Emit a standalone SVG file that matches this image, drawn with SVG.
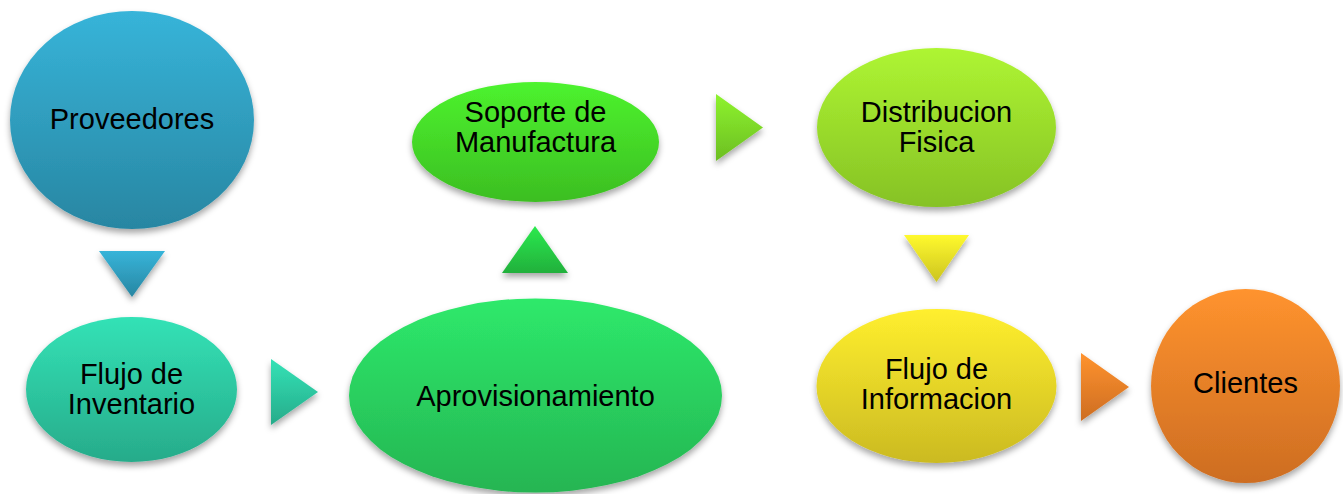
<svg xmlns="http://www.w3.org/2000/svg" width="1343" height="494" viewBox="0 0 1343 494">
<style>
text{font-family:"Liberation Sans",Arial,sans-serif;font-size:29px;fill:#000;text-anchor:middle}
.sh{filter:url(#shadow)}
</style>
<defs>
<filter id="shadow" x="-20%" y="-20%" width="140%" height="150%">
<feDropShadow dx="0" dy="4" stdDeviation="3" flood-color="#000" flood-opacity="0.35"/>
</filter>
<linearGradient id="gBlue" x1="0" y1="0" x2="0" y2="1"><stop offset="0" stop-color="#37B4D9"/><stop offset="1" stop-color="#2886A2"/></linearGradient>
<linearGradient id="gTeal" x1="0" y1="0" x2="0" y2="1"><stop offset="0" stop-color="#33E2B6"/><stop offset="1" stop-color="#27AB8A"/></linearGradient>
<linearGradient id="gGreen" x1="0" y1="0" x2="0" y2="1"><stop offset="0" stop-color="#2EE96B"/><stop offset="1" stop-color="#25B552"/></linearGradient>
<linearGradient id="gGreen2" x1="0" y1="0" x2="0" y2="1"><stop offset="0" stop-color="#2BE94E"/><stop offset="1" stop-color="#22B03C"/></linearGradient>
<linearGradient id="gLgreen" x1="0" y1="0" x2="0" y2="1"><stop offset="0" stop-color="#4DF32E"/><stop offset="1" stop-color="#3CBE22"/></linearGradient>
<linearGradient id="gLime" x1="0" y1="0" x2="0" y2="1"><stop offset="0" stop-color="#8EF32E"/><stop offset="1" stop-color="#6CBE22"/></linearGradient>
<linearGradient id="gYgreen" x1="0" y1="0" x2="0" y2="1"><stop offset="0" stop-color="#AEF532"/><stop offset="1" stop-color="#86C225"/></linearGradient>
<linearGradient id="gYellow" x1="0" y1="0" x2="0" y2="1"><stop offset="0" stop-color="#FFF92E"/><stop offset="1" stop-color="#CCC420"/></linearGradient>
<linearGradient id="gYellow2" x1="0" y1="0" x2="0" y2="1"><stop offset="0" stop-color="#FFEF2E"/><stop offset="1" stop-color="#CBBA22"/></linearGradient>
<linearGradient id="gOrange" x1="0" y1="0" x2="0" y2="1"><stop offset="0" stop-color="#FF932E"/><stop offset="1" stop-color="#CD6D22"/></linearGradient>
</defs>

<g id="connectors">
<polygon class="sh" points="99,251 165,251 132,297" fill="url(#gBlue)"/>
<polygon class="sh" points="271,359 318,392 271,425" fill="url(#gTeal)"/>
<polygon class="sh" points="502,273 568,273 535,226" fill="url(#gGreen2)"/>
<polygon class="sh" points="716,94 763,127.5 716,161" fill="url(#gLime)"/>
<polygon class="sh" points="904,235 969,235 936.5,282" fill="url(#gYellow)"/>
<polygon class="sh" points="1081,353 1129,387 1081,421" fill="url(#gOrange)"/>
</g>

<g id="proveedores">
<ellipse class="sh" cx="132" cy="120" rx="122" ry="109" fill="url(#gBlue)"/>
<text x="132" y="129">Proveedores</text>
</g>

<g id="flujo-inventario">
<ellipse class="sh" cx="131.5" cy="389.5" rx="105.5" ry="72.5" fill="url(#gTeal)"/>
<text x="131.5" y="384">Flujo de</text>
<text x="131.5" y="414">Inventario</text>
</g>

<g id="aprovisionamiento">
<ellipse class="sh" cx="535.5" cy="395.5" rx="186.5" ry="97" fill="url(#gGreen)"/>
<text x="535.5" y="406">Aprovisionamiento</text>
</g>

<g id="soporte-manufactura">
<ellipse class="sh" cx="535.5" cy="142" rx="123.5" ry="60" fill="url(#gLgreen)"/>
<text x="535.5" y="122">Soporte de</text>
<text x="535.5" y="152">Manufactura</text>
</g>

<g id="distribucion-fisica">
<ellipse class="sh" cx="936.5" cy="127.5" rx="119.5" ry="79.5" fill="url(#gYgreen)"/>
<text x="936.5" y="122">Distribucion</text>
<text x="936.5" y="152">Fisica</text>
</g>

<g id="flujo-informacion">
<ellipse class="sh" cx="936.5" cy="386" rx="120" ry="77" fill="url(#gYellow2)"/>
<text x="936.5" y="379">Flujo de</text>
<text x="936.5" y="409">Informacion</text>
</g>

<g id="clientes">
<ellipse class="sh" cx="1245.5" cy="386" rx="94.5" ry="97" fill="url(#gOrange)"/>
<text x="1245.5" y="393">Clientes</text>
</g>
</svg>
